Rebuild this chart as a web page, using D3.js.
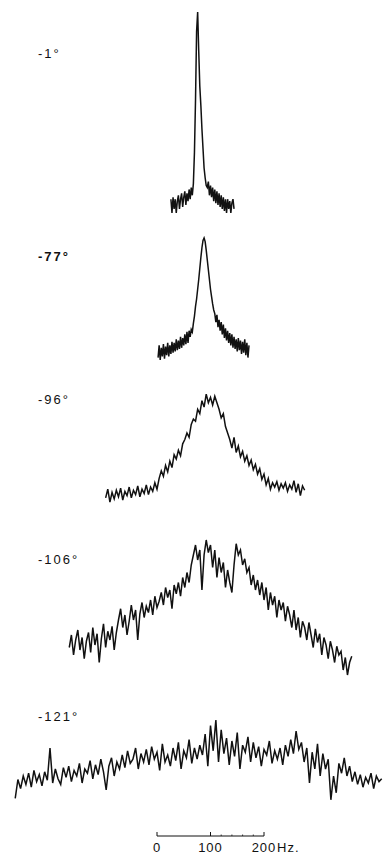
<!DOCTYPE html>
<html>
<head>
<meta charset="utf-8">
<script src="https://cdn.jsdelivr.net/npm/d3@7"></script>
<style>
  body { margin: 0; background: #fff; }
  svg { display: block; }
  .label { font-family: 'Liberation Sans', Arial, sans-serif; font-size: 13px; fill: #111; letter-spacing: 2px; }
  .trace { fill: none; stroke: #111; stroke-width: 1.5; stroke-linejoin: miter; }
</style>
</head>
<body>
<div id="chart"></div>
<script>
const WIDTH = 383;
const HEIGHT = 855;

// temperature of each spectrum
const temps = ['-1°', '-77°', '-96°', '-106°', '-121°'];

// each spectrum: first frequency (Hz), step (Hz), amplitudes (0..100 per panel)
const spec1Start = 26, spec1Step = 2;
const spec1 = [4, -3, 5, -1, 4, -3, 3, 6, -1, 4, 7, 0, 5, 8, 1, 7, 3, 9, 4, 10,
  6, 12, 28, 55, 90, 100, 80, 62, 52, 40, 30, 20, 15, 11, 10, 13, 6, 11, 5, 10,
  3, 9, 2, 8, 1, 7, 0, 6, -1, 5, -2, 4, -3, 4, -1, 3, -3, 2, 4, -1];

const spec2Start = 2, spec2Step = 2;
const spec2 = [2, 12, 0, 10, 3, 13, 1, 11, 4, 14, 3, 12, 5, 15, 6, 14, 7, 17, 8, 16,
  9, 19, 10, 18, 12, 21, 13, 23, 14, 24,
  19, 25, 23, 30, 36, 44, 50, 58, 66, 75, 84, 92, 98, 100, 97, 90, 82, 74, 66, 58,
  52, 46, 41, 38, 31, 37, 27, 33, 24, 31,
  21, 29, 18, 26, 16, 24, 14, 22, 12, 21, 10, 19, 9, 17, 7, 18, 8, 16, 5, 15,
  6, 17, 4, 14, 2, 12];

const spec3Start = -96, spec3Step = 4;
const spec3 = [2, 10, -2, 7, 1, 9, 3, 11, 0, 8,
  4, 12, 2, 9, 5, 13, 3, 10, 6, 14,
  5, 12, 8, 16, 10, 20, 27, 22, 32, 26,
  36, 30, 42, 38, 46, 41, 52, 56, 62, 58,
  70, 75, 73, 84, 80, 92, 86, 98, 90, 95,
  88, 96, 90, 84, 76, 80, 68, 62, 56, 48,
  58, 44, 50, 40, 45, 36, 41, 32, 37, 28,
  33, 24, 29, 19, 24, 14, 20, 10, 16, 12,
  17, 9, 15, 11, 16, 8, 14, 10, 18, 7,
  15, 4, 13, 9];

const spec4Start = -164, spec4Step = 4;
const spec4 = [14, 24, 8, 20, 28, 12, 22, 5, 19, 26,
  10, 30, 16, 25, 2, 21, 33, 14, 27, 20,
  31, 12, 26, 36, 45, 30, 40, 24, 35, 48,
  36, 44, 20, 41, 50, 38, 47, 42, 52, 40,
  55, 46, 51, 58, 48, 62, 54, 60, 45, 64,
  57, 66, 55, 70, 62, 74, 66, 80, 88, 96,
  84, 92, 60, 88, 100, 90, 96, 78, 92, 70,
  86, 74, 82, 62, 76, 66, 58, 80, 97, 88,
  92, 80, 85, 74, 78, 64, 72, 60, 68, 56,
  66, 52, 62, 44, 58, 48, 55, 38, 52, 44,
  50, 35, 47, 40, 30, 44, 28, 38, 22, 35,
  30, 20, 34, 24, 14, 29, 18, 25, 8, 22,
  16, 5, 19, 12, 2, 15, 8, 11, -4, 6,
  -8, 2, 7];

const spec5Start = -265, spec5Step = 5;
const spec5 = [-12, 15, 2, 20, 8, 24, 4, 28, 12, 22,
  6, 26, 14, 60, 10, 30, 16, 8, 32, 18,
  34, 12, 28, 20, 38, 10, 30, 24, 42, 16,
  36, 22, 44, 26, 0, 34, 46, 20, 40, 30,
  50, 32, 56, 38, 44, 60, 30, 52, 40, 58,
  36, 62, 44, 54, 28, 66, 40, 50, 34, 60,
  42, 68, 30, 56, 46, 72, 38, 60, 44, 64,
  50, 80, 34, 92, 56, 100, 40, 86, 52, 74,
  36, 70, 48, 82, 30, 64, 54, 76, 40, 68,
  46, 62, 34, 58, 50, 70, 38, 56, 44, 60,
  36, 64, 48, 72, 52, 84, 58, 68, 40, 60,
  10, 54, 30, 66, 20, 52, 30, 44, -14, 20,
  -4, 38, 24, 46, 20, 34, 12, 26, 8, 22,
  4, 18, 10, 24, 2, 20, 12, 16];

// frequency scale bar
const scaleTicks = [0, 100, 200];
const scaleMinor = [120, 140, 160, 180];
const scaleUnit = 'Hz.';

const spectra = [
  { start: spec1Start, step: spec1Step, values: spec1 },
  { start: spec2Start, step: spec2Step, values: spec2 },
  { start: spec3Start, step: spec3Step, values: spec3 },
  { start: spec4Start, step: spec4Step, values: spec4 },
  { start: spec5Start, step: spec5Step, values: spec5 },
];

// panel layout: amplitude 0 -> base, 100 -> top (pixels), label baseline
const PANELS = [
  { base: 207, top: 12, labelY: 58, bold: false },
  { base: 360, top: 238, labelY: 261, bold: true },
  { base: 500, top: 392, labelY: 404, bold: false },
  { base: 665, top: 540, labelY: 564, bold: false },
  { base: 790, top: 720, labelY: 721, bold: false },
];

const svg = d3
  .select('#chart')
  .append('svg')
  .attr('width', WIDTH)
  .attr('height', HEIGHT);

// shared frequency axis
const x = d3.scaleLinear().domain([0, 200]).range([157, 264]);

spectra.forEach((s, i) => {
  const p = PANELS[i];
  const y = d3.scaleLinear().domain([0, 100]).range([p.base, p.top]);
  const pts = s.values.map((v, j) => [s.start + j * s.step, v]);

  const line = d3
    .line()
    .x((d) => x(d[0]))
    .y((d) => y(d[1]));

  svg.append('path').attr('class', 'trace').attr('d', line(pts));

  svg
    .append('text')
    .attr('class', 'label')
    .attr('x', 38)
    .attr('y', p.labelY)
    .style('font-weight', p.bold ? 'bold' : 'normal')
    .text(temps[i]);
});

// scale bar at the bottom
const gScale = svg.append('g').attr('transform', 'translate(0,836)');
gScale
  .append('line')
  .attr('x1', x(0))
  .attr('x2', x(200))
  .attr('stroke', '#111')
  .attr('stroke-width', 1);
gScale
  .selectAll('line.major')
  .data(scaleTicks)
  .join('line')
  .attr('class', 'major')
  .attr('x1', (d) => x(d))
  .attr('x2', (d) => x(d))
  .attr('y1', 0)
  .attr('y2', -4)
  .attr('stroke', '#111');
gScale
  .selectAll('line.minor')
  .data(scaleMinor)
  .join('line')
  .attr('class', 'minor')
  .attr('x1', (d) => x(d))
  .attr('x2', (d) => x(d))
  .attr('y1', 0)
  .attr('y2', -1.5)
  .attr('stroke', '#111')
  .attr('stroke-width', 0.8);
gScale
  .selectAll('text.tick')
  .data(scaleTicks)
  .join('text')
  .attr('class', 'label tick')
  .attr('x', (d) => x(d))
  .attr('y', 16)
  .style('text-anchor', 'middle')
  .style('letter-spacing', '1px')
  .text((d) => d);
gScale
  .append('text')
  .attr('class', 'label')
  .attr('x', x(200) + 13)
  .attr('y', 16)
  .style('letter-spacing', '1px')
  .text(scaleUnit);
</script>
</body>
</html>
